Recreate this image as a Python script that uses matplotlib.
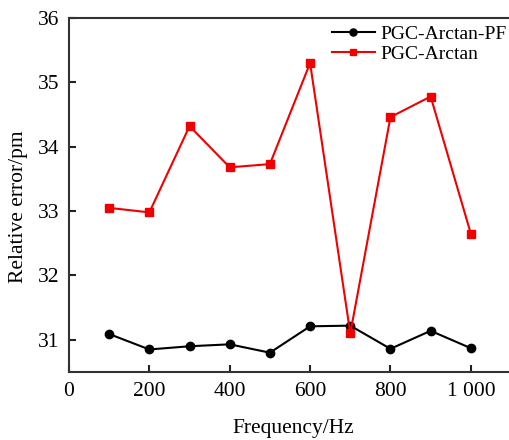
import matplotlib
matplotlib.use('Agg')
import matplotlib.pyplot as plt
from matplotlib.ticker import FixedLocator

plt.rcParams['font.family'] = ['Liberation Serif', 'DejaVu Serif']
plt.rcParams['font.size'] = 15.5

# data
freq = [100, 200, 300, 400, 500, 600, 700, 800, 900, 1000]
err_pf = [31.09, 30.85, 30.90, 30.93, 30.80, 31.21, 31.22, 30.86, 31.14, 30.87]
err_arctan = [33.05, 32.98, 34.32, 33.68, 33.73, 35.30, 31.10, 34.46, 34.78, 32.65]
xticks = [0, 200, 400, 600, 800, 1000]
xtick_labels = ['0', '200', '400', '600', '800', '1 000']
yticks = [31, 32, 33, 34, 35, 36]

W, H = 509, 440
fig = plt.figure(figsize=(W / 100, H / 100), dpi=100)
# axes box runs slightly past the right edge of the image, as in the reference
left, right, top, bottom = 69, 511, 18, 372
ax = fig.add_axes([left / W, 1 - bottom / H, (right - left) / W, (bottom - top) / H])

ax.plot(freq, err_pf, color='black', lw=1.5, marker='o', ms=6,
        label='PGC-Arctan-PF')
ax.plot(freq, err_arctan, color='#f00000', lw=1.5, marker='s', ms=5.2,
        label='PGC-Arctan')

ax.set_xlim(0, 1100)
ax.set_ylim(30.5, 36)
ax.xaxis.set_major_locator(FixedLocator(xticks))
ax.set_xticklabels(xtick_labels)
ax.yaxis.set_major_locator(FixedLocator(yticks))
ax.tick_params(direction='in', length=5, width=1.5, color='#222222',
               labelsize=15.5, pad=7)
for sp in ax.spines.values():
    sp.set_linewidth(1.5)
    sp.set_color('#333333')

ax.set_xlabel('Frequency/Hz', fontsize=15.5)
ax.xaxis.set_label_coords((293 - left) / (right - left), -(428 - bottom) / (bottom - top))
ax.xaxis.label.set_va('center')
ax.set_ylabel('Relative error/pm', fontsize=15.5)
ax.yaxis.set_label_coords(-(left - 19) / (right - left), (bottom - 207) / (bottom - top))
ax.yaxis.label.set_va('center')

fig.legend(loc='upper left', bbox_to_anchor=(332 / W, 1 - 25 / H),
           frameon=False, borderpad=0, borderaxespad=0, handlelength=2.2,
           handletextpad=0.3, labelspacing=0.15, fontsize=14, markerscale=0.85)

fig.savefig('out.png', dpi=100)
